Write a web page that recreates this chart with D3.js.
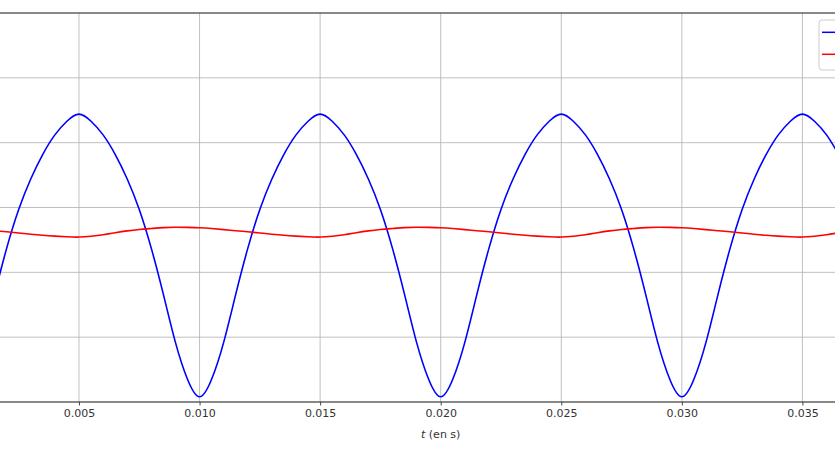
<!DOCTYPE html>
<html>
<head>
<meta charset="utf-8">
<script src="https://d3js.org/d3.v7.min.js"></script>
<style>
	html, body { margin: 0; padding: 0; background: #fff; overflow: hidden; }
	svg { display: block; font-family: 'DejaVu Sans', sans-serif; }
</style>
</head>
<body>
<div id="chart-area"></div>
<script>
// Sampling of the curves (s)
const tStart = 0.0015;
const tStep = 0.0005;

// Tick values
const xTicks = [0, 0.005, 0.010, 0.015, 0.020, 0.025, 0.030, 0.035, 0.040];
const yTicks = [-3, -2, -1, 0, 1, 2, 3];

// Series
const blue = [
	-1.34, -0.63, -0.03, 0.44, 0.82, 1.12, 1.33, 1.44, 1.33, 1.12, 0.82, 0.44, -0.03, -0.63, -1.34, -2.08, -2.65,
	-2.92, -2.65, -2.08, -1.34, -0.63, -0.03, 0.44, 0.82, 1.12, 1.33, 1.44, 1.33, 1.12, 0.82, 0.44, -0.03, -0.63, -1.34, -2.08, -2.65,
	-2.92, -2.65, -2.08, -1.34, -0.63, -0.03, 0.44, 0.82, 1.12, 1.33, 1.44, 1.33, 1.12, 0.82, 0.44, -0.03, -0.63, -1.34, -2.08, -2.65,
	-2.92, -2.65, -2.08, -1.34, -0.63, -0.03, 0.44, 0.82, 1.12, 1.33, 1.44, 1.33, 1.12, 0.82
];
const red = [
	-0.358, -0.375, -0.393, -0.412, -0.429, -0.442, -0.452, -0.456, -0.444, -0.421, -0.390, -0.361, -0.339, -0.324, -0.311, -0.305, -0.307,
	-0.313, -0.325, -0.341, -0.358, -0.375, -0.393, -0.412, -0.429, -0.442, -0.452, -0.456, -0.444, -0.421, -0.390, -0.361, -0.339, -0.324, -0.311, -0.305, -0.307,
	-0.313, -0.325, -0.341, -0.358, -0.375, -0.393, -0.412, -0.429, -0.442, -0.452, -0.456, -0.444, -0.421, -0.390, -0.361, -0.339, -0.324, -0.311, -0.305, -0.307,
	-0.313, -0.325, -0.341, -0.358, -0.375, -0.393, -0.412, -0.429, -0.442, -0.452, -0.456, -0.444, -0.421, -0.390
];
const times = blue.map((d, i) => tStart + i * tStep);

// Axes box (left and right edges lie outside the picture)
const box = { left: -41.6, right: 923, top: 13, bottom: 402 };

const svg = d3.select('#chart-area')
	.append('svg')
		.attr('width', 835)
		.attr('height', 450);

// Scales
const x = d3.scaleLinear()
	.domain([0, 0.04])
	.range([box.left, box.right]);

const y = d3.scaleLinear()
	.domain([-3, 3])
	.range([box.bottom, box.top]);

// Grid
svg.append('g')
	.selectAll('line')
	.data(xTicks)
	.join('line')
		.attr('x1', d => x(d)).attr('x2', d => x(d))
		.attr('y1', box.top).attr('y2', box.bottom)
		.attr('stroke', '#b0b0b0')
		.attr('stroke-width', 0.8);

svg.append('g')
	.selectAll('line')
	.data(yTicks)
	.join('line')
		.attr('x1', box.left).attr('x2', box.right)
		.attr('y1', d => y(d)).attr('y2', d => y(d))
		.attr('stroke', '#b0b0b0')
		.attr('stroke-width', 0.8);

// Clip
svg.append('clipPath')
	.attr('id', 'plot-clip')
	.append('rect')
		.attr('x', box.left).attr('y', box.top)
		.attr('width', box.right - box.left)
		.attr('height', box.bottom - box.top);

// Lines
const line = d3.line()
	.x((d, i) => x(times[i]))
	.y(d => y(d))
	.curve(d3.curveNatural);

svg.append('path')
	.datum(blue)
	.attr('clip-path', 'url(#plot-clip)')
	.attr('fill', 'none')
	.attr('stroke', '#0000ff')
	.attr('stroke-width', 1.6)
	.attr('d', line);

svg.append('path')
	.datum(red)
	.attr('clip-path', 'url(#plot-clip)')
	.attr('fill', 'none')
	.attr('stroke', '#ff0000')
	.attr('stroke-width', 1.6)
	.attr('d', line);

// Spines
svg.append('rect')
	.attr('x', box.left).attr('y', box.top)
	.attr('width', box.right - box.left)
	.attr('height', box.bottom - box.top)
	.attr('fill', 'none')
	.attr('stroke', '#333')
	.attr('stroke-width', 1);

// X Axis
const xAxis = d3.axisBottom(x)
	.tickValues(xTicks.slice(1, -1))
	.tickFormat(d3.format('.3f'))
	.tickSize(3.5)
	.tickPadding(3.5);

const xAxisGroup = svg.append('g')
	.attr('transform', 'translate(0, ' + box.bottom + ')')
	.call(xAxis);
xAxisGroup.select('.domain').remove();
xAxisGroup.selectAll('line').attr('stroke', '#333').attr('stroke-width', 0.9);
xAxisGroup.selectAll('text')
	.attr('font-family', 'DejaVu Sans, sans-serif')
	.attr('font-size', '11px')
	.attr('fill', '#333');

// X Label
const xLabel = svg.append('text')
	.attr('x', (box.left + box.right) / 2)
	.attr('y', 438)
	.attr('text-anchor', 'middle')
	.attr('font-size', '11px')
	.attr('fill', '#333');
xLabel.append('tspan').attr('font-style', 'italic').text('t');
xLabel.append('tspan').text(' (en s)');

// Legend (mostly outside the picture)
const legend = svg.append('g')
	.attr('transform', 'translate(' + (box.right - 104) + ', 20)');

legend.append('rect')
	.attr('width', 98)
	.attr('height', 50)
	.attr('rx', 3)
	.attr('fill', '#fff')
	.attr('fill-opacity', 0.8)
	.attr('stroke', '#cccccc')
	.attr('stroke-width', 1);

legend.selectAll('line')
	.data(['#0000ff', '#ff0000'])
	.join('line')
		.attr('x1', 3).attr('x2', 23)
		.attr('y1', (d, i) => 12.3 + i * 22)
		.attr('y2', (d, i) => 12.3 + i * 22)
		.attr('stroke', d => d)
		.attr('stroke-width', 1.5);
</script>
</body>
</html>
